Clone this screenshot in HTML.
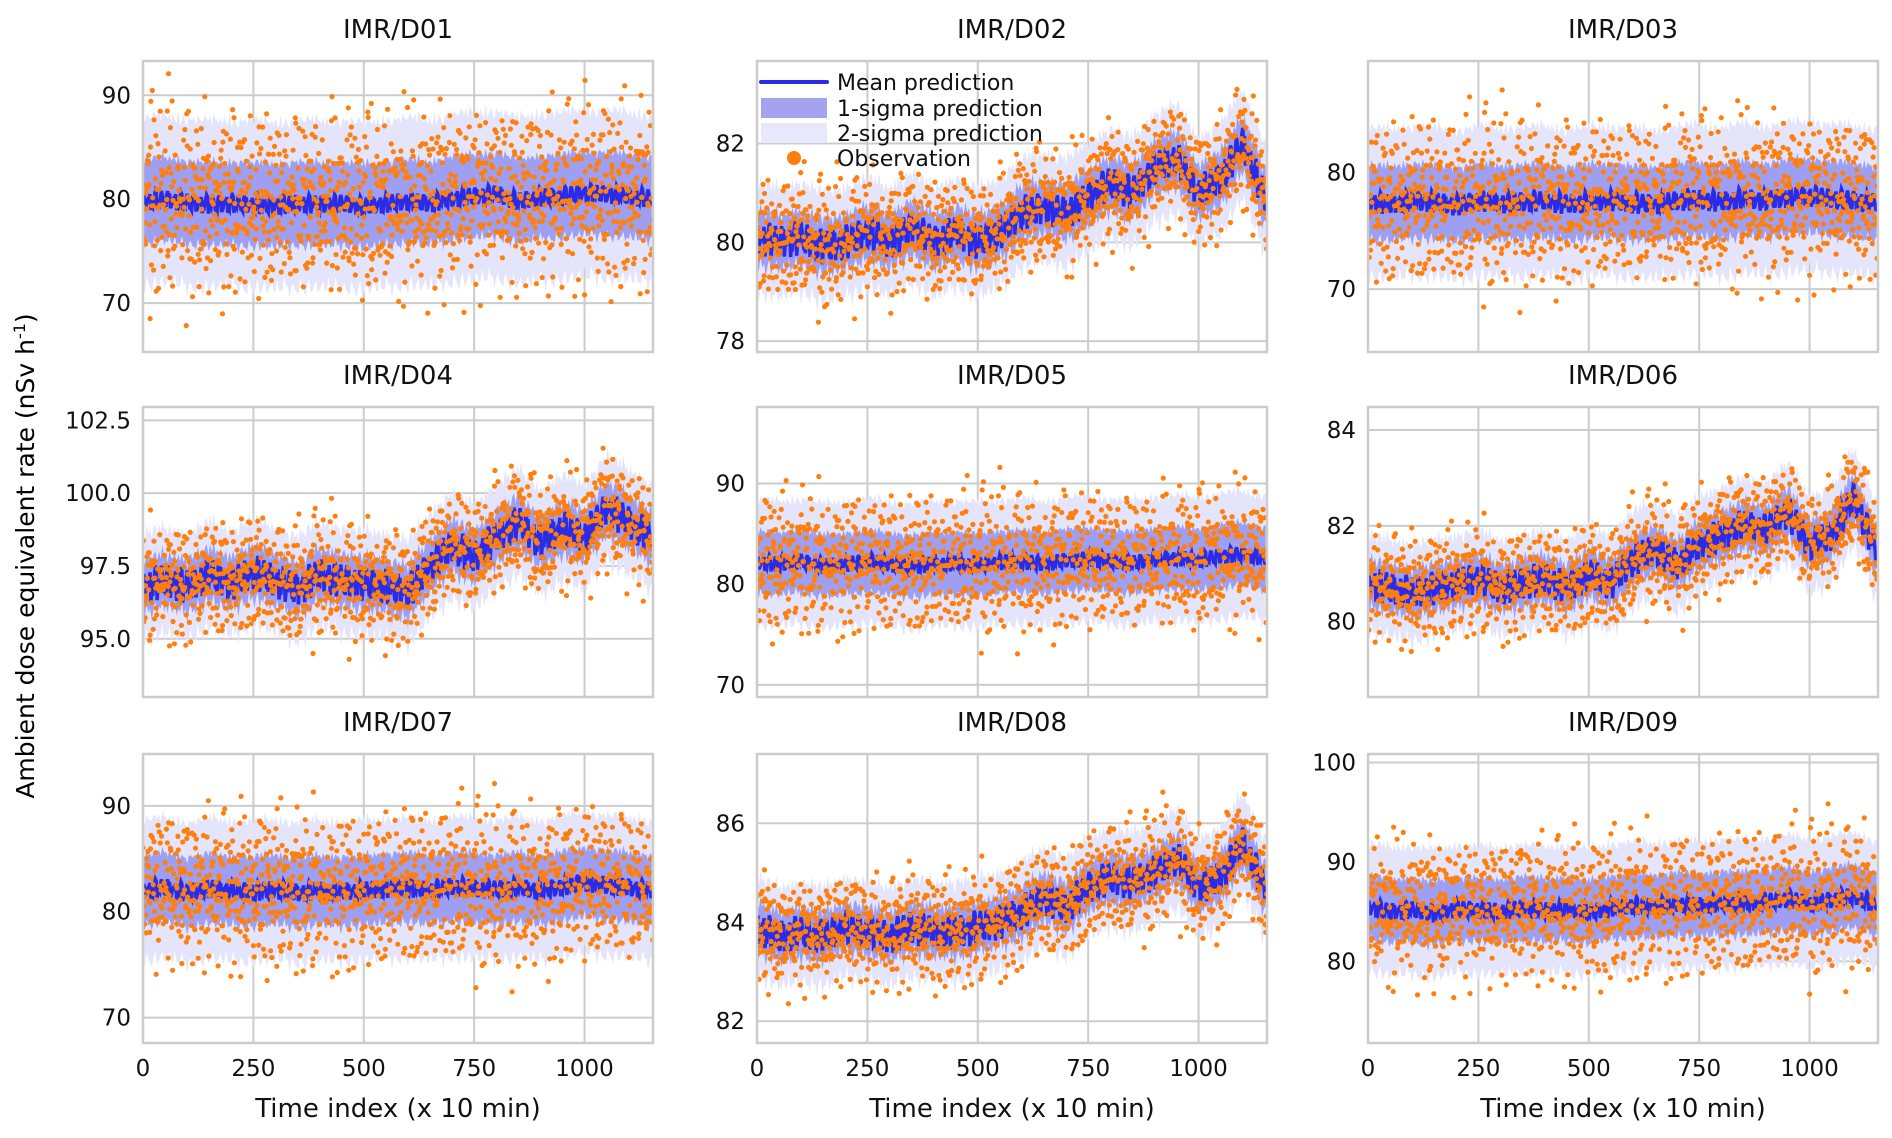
<!DOCTYPE html>
<html><head><meta charset="utf-8">
<style>
html,body{margin:0;padding:0;background:#fff;}
svg{display:block;font-family:"DejaVu Sans","Liberation Sans",sans-serif;}
</style></head>
<body>
<svg id="fig" width="1892" height="1138" viewBox="0 0 1892 1138">
<text x="34" y="556" font-size="25" text-anchor="middle" transform="rotate(-90 34 556)">Ambient dose equivalent rate (nSv h<tspan font-size="16" dy="-9">-1</tspan><tspan dy="9">)</tspan></text>
</svg>
<script>
const stations = ["IMR/D01","IMR/D02","IMR/D03","IMR/D04","IMR/D05","IMR/D06","IMR/D07","IMR/D08","IMR/D09"];
const meanD01 = [79.8,80,79.7,79.5,79.6,79.5,79.4,79.6,79.5,79.6,79.3,79.6,79.8,79.6,80.1,80.3,80.5,79.8,80.2,80.3,80.6,80.5,80.3,80.1];
const meanD02 = [80.1,80.0,80.1,79.9,80.0,80.2,80.0,80.3,80.0,80.2,80.0,80.2,80.6,80.7,80.6,80.9,81.2,81.0,81.5,81.7,81.0,81.3,82.0,80.9];
const meanD03 = [77.5,77.3,77.6,77.5,77.2,77.6,77.4,77.5,77.6,77.3,77.5,77.6,77.4,77.3,77.6,77.7,77.5,77.8,77.6,77.9,78.0,77.8,77.6,77.4];
const meanD04 = [96.8,97.0,96.8,97.2,96.9,97.3,97.0,96.7,97.2,97.0,96.9,96.8,96.6,97.5,98.2,97.8,98.5,99.0,98.3,98.8,98.5,99.5,99.0,98.5];
const meanD05 = [82.2,82.0,82.3,81.8,82.0,82.3,82.0,81.8,82.0,82.1,81.9,82.2,82.3,82.0,82.4,82.5,82.3,82.1,82.5,82.6,82.4,82.8,83.0,82.6];
const meanD06 = [80.8,80.7,80.6,80.7,80.8,80.9,80.7,80.8,80.9,80.7,81.0,80.8,81.3,81.5,81.2,81.6,81.8,82.0,81.9,82.3,81.6,81.8,82.6,81.5];
const meanD07 = [82.0,82.3,81.8,82.2,82.0,81.9,82.1,81.8,82.0,81.9,82.0,82.2,82.3,82.0,82.4,82.2,82.1,82.3,82.0,82.4,82.8,82.5,82.3,82.0];
const meanD08 = [83.9,83.7,83.8,83.7,83.9,83.8,83.7,83.9,83.8,83.8,83.9,84.0,84.2,84.5,84.3,84.7,84.9,84.8,85.0,85.3,84.7,84.9,85.6,84.7];
const meanD09 = [85.5,85.0,85.2,84.8,85.3,85.2,85.0,85.4,85.1,85.3,84.9,85.4,85.6,85.5,85.8,85.6,85.9,85.8,86.0,86.3,85.8,86.2,86.6,85.7];
const sigma = [4.0,0.55,3.2,0.9,3.1,0.5,3.3,0.5,3.2];
const wiggle = [0.9,0.35,0.9,0.6,0.8,0.35,0.9,0.35,0.9];
const yMin = [65.3,77.78,64.6,93.0,68.8,78.43,67.6,81.56,71.8];
const yMax = [93.3,83.67,89.6,102.96,97.6,84.48,94.9,87.4,100.85];
const yTicksD01 = [70,80,90];
const yTicksD02 = [78,80,82];
const yTicksD03 = [70,80];
const yTicksD04 = [95.0,97.5,100.0,102.5];
const yTicksD05 = [70,80,90];
const yTicksD06 = [80,82,84];
const yTicksD07 = [70,80,90];
const yTicksD08 = [82,84,86];
const yTicksD09 = [80,90,100];
const xTicks = [0,250,500,750,1000];
const xMax = 1155;
// residual pattern of observations (in sigma units), read as typical scatter
const residA = [0.3,-1.2,0.8,1.9,-0.4,-2.1,0.1,1.1,-0.9,0.6,-1.6,2.3,-0.2,0.9,-1.0,0.4,1.5,-0.7,-1.9,0.2,1.2,-0.3,0.7,-1.3,2.0,-0.6,0.0,1.7,-1.1,0.5,-2.4,0.8,-0.1,1.3,-0.8,-1.5,0.6,2.6,-0.5,1.0,-1.8];
const residB = [-0.5,0.7,1.1,-1.4,0.2,-0.9,1.6,-0.2,0.4,-1.1,0.9,-2.0,0.3,1.4,-0.6,0.0,-1.3,1.8,-0.4,0.6,-0.8,1.2,-1.7,0.5,0.1,-0.3,2.1,-1.0,0.8,-0.7,1.0,-1.5,0.3,-0.1,1.5,-2.2,0.6];
const jitter = [0.2,-0.6,0.9,-0.3,0.5,-1.0,0.1,0.7,-0.8,0.4,-0.2,1.0,-0.5,0.3,-0.9,0.6,0.0,-0.4,0.8,-0.7,0.3,-0.1,0.9,-0.6,0.5,-1.0,0.2,0.7,-0.3];
const means = [meanD01,meanD02,meanD03,meanD04,meanD05,meanD06,meanD07,meanD08,meanD09];
const yTicks = [yTicksD01,yTicksD02,yTicksD03,yTicksD04,yTicksD05,yTicksD06,yTicksD07,yTicksD08,yTicksD09];

const NS="http://www.w3.org/2000/svg";
const svg=document.getElementById('fig');
const colX=[[143,653],[757,1267],[1368,1878]];
const rowY=[[61,352],[407,697],[754,1043]];
function mk(tag,attrs,parent){const e=document.createElementNS(NS,tag);for(const k in attrs)e.setAttribute(k,attrs[k]);(parent||svg).appendChild(e);return e;}
function meanAt(arr,t){const p=t/50;const i=Math.min(Math.floor(p),arr.length-2);const f=Math.min(p-i,1);return arr[i]*(1-f)+arr[i+1]*f;}

for(let k=0;k<9;k++){
  const c=k%3,r=Math.floor(k/3);
  const [x0,x1]=colX[c],[y0,y1]=rowY[r];
  const sx=t=>x0+(t/xMax)*(x1-x0);
  const sy=v=>y1-(v-yMin[k])/(yMax[k]-yMin[k])*(y1-y0);
  const g=mk('g',{});
  
  
  const cp=mk('clipPath',{id:'cp'+k},g);
  mk('rect',{x:x0,y:y0,width:x1-x0,height:y1-y0},cp);
  for(const t of xTicks){const l=mk('line',{x1:sx(t),x2:sx(t),y1:y0,y2:y1,stroke:'#cccccc','stroke-width':2},g);
    }
  for(const v of yTicks[k]){const l=mk('line',{x1:x0,x2:x1,y1:sy(v),y2:sy(v),stroke:'#cccccc','stroke-width':2},g);
    }
  const plot=mk('g',{'clip-path':'url(#cp'+k+')'},g);
  const s=sigma[k],m=means[k];
  for(const [mult,col,nm] of [[2,'#e4e4fb','band-2-sigma'],[1,'rgba(90,90,232,0.5)','band-1-sigma']]){
    let up=[],lo=[];
    for(let t=0,j=0;t<=xMax;t+=4,j++){
      const mv=meanAt(m,t)+jitter[j%29]*wiggle[k]*0.5;
      up.push(sx(t).toFixed(1)+','+sy(mv+mult*s*(1+0.08*jitter[(j*3)%29])).toFixed(1));
      lo.unshift(sx(t).toFixed(1)+','+sy(mv-mult*s*(1+0.08*jitter[(j*5+2)%29])).toFixed(1));
    }
    const p=mk('polygon',{points:up.concat(lo).join(' '),fill:col},plot);
    
  }
  let pts=[];
  for(let t=0,j=0;t<=xMax;t+=2,j++){pts.push(sx(t).toFixed(1)+','+sy(meanAt(m,t)+jitter[(j*7)%29]*wiggle[k]).toFixed(1));}
  const ml=mk('polyline',{points:pts.join(' '),fill:'none',stroke:'#2b2be6','stroke-width':3.5},plot);
  
  const og=mk('g',{fill:'#ff7f0e'},plot);
  
  for(let t=0;t<=xMax;t+=1){
    const rr=(residA[(t*7)%41]+residB[(t*3+k)%37])/1.55;
    mk('circle',{cx:sx(t).toFixed(1),cy:sy(meanAt(m,t)+rr*s).toFixed(1),r:2.6},og);
  }
  const fr=mk('rect',{x:x0,y:y0,width:x1-x0,height:y1-y0,fill:'none',stroke:'#cccccc','stroke-width':2.5},g);
  
  const tt=mk('text',{x:(x0+x1)/2,y:y0-23,'font-size':26,'text-anchor':'middle',fill:'#111'},g);
  tt.textContent=stations[k];
  
  for(const v of yTicks[k]){
    const lab=mk('text',{x:x0-12,y:sy(v)+8,'font-size':23,'text-anchor':'end',fill:'#111'},g);
    lab.textContent=(k===3)?v.toFixed(1):String(v);
    
  }
  if(r===2){
    for(const t of xTicks){
      const lab=mk('text',{x:sx(t),y:y1+33,'font-size':23,'text-anchor':'middle',fill:'#111'},g);
      lab.textContent=String(t);
      
    }
    const xl=mk('text',{x:(x0+x1)/2,y:y1+74,'font-size':26,'text-anchor':'middle',fill:'#111'},g);
    xl.textContent='Time index (x 10 min)';
    
  }
}
const lg=mk('g',{});


const legLabels=['Mean prediction','1-sigma prediction','2-sigma prediction','Observation'];
const legY=[82,108,133,158];
mk('line',{x1:761,x2:827,y1:legY[0],y2:legY[0],stroke:'#2b2be6','stroke-width':4,'stroke-linecap':'round'},lg);
mk('rect',{x:761,y:legY[1]-10,width:66,height:20,fill:'#a3a3f0'},lg);
mk('rect',{x:761,y:legY[2]-10,width:66,height:20,fill:'#e8e8fc'},lg);
mk('circle',{cx:794,cy:legY[3],r:7,fill:'#ff7f0e'},lg);
for(let i=0;i<4;i++){
  const t=mk('text',{x:837,y:legY[i]+8,'font-size':22,fill:'#111'},lg);
  t.textContent=legLabels[i];
  
  
}
</script>
</body></html>
